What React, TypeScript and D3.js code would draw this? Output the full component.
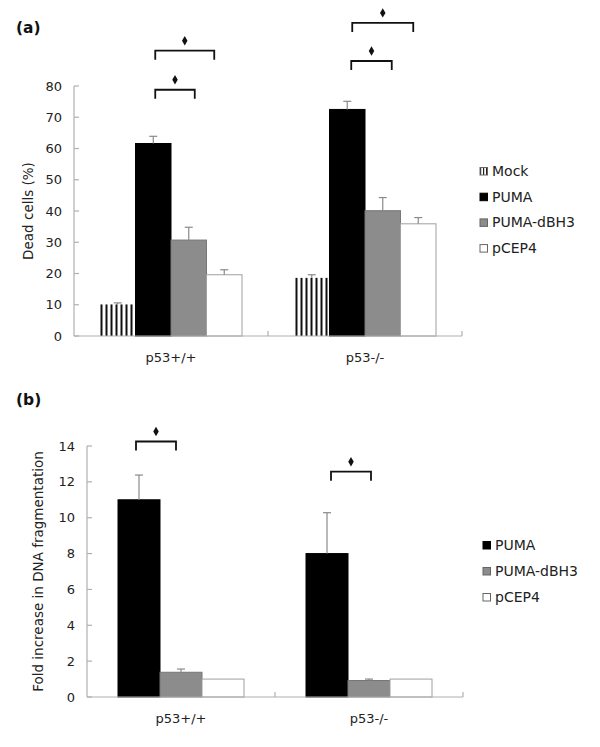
import React from "react";
import * as d3 from "d3";

const categories = ["p53+/+", "p53-/-"];

const seriesA = ["Mock", "PUMA", "PUMA-dBH3", "pCEP4"];
const valuesA = [
  [10.1, 61.6, 30.7, 19.6],
  [18.6, 72.5, 40.1, 35.9],
];
const errorsA = [
  [0.5, 2.3, 4.1, 1.6],
  [1.0, 2.6, 4.2, 2.0],
];
const ticksA = [0, 10, 20, 30, 40, 50, 60, 70, 80];
const bracketsA = [
  { cat: "p53+/+", from: "PUMA", to: "PUMA-dBH3", level: 78.8 },
  { cat: "p53+/+", from: "PUMA", to: "pCEP4", level: 91.3 },
  { cat: "p53-/-", from: "PUMA", to: "PUMA-dBH3", level: 88 },
  { cat: "p53-/-", from: "PUMA", to: "pCEP4", level: 100.2 },
];

const seriesB = ["PUMA", "PUMA-dBH3", "pCEP4"];
const valuesB = [
  [11.0, 1.38, 1.0],
  [8.0, 0.92, 1.0],
];
const errorsB = [
  [1.38, 0.18, 0],
  [2.28, 0.08, 0],
];
const ticksB = [0, 2, 4, 6, 8, 10, 12, 14];
const bracketsB = [
  { cat: "p53+/+", from: "PUMA", to: "PUMA-dBH3", level: 14.25 },
  { cat: "p53-/-", from: "PUMA", to: "PUMA-dBH3", level: 12.57 },
];

const FONT = "'DejaVu Sans', sans-serif";
const AXIS = "#b0b0b0";
const TEXT = "#222";

const fills: Record<string, string> = {
  Mock: "url(#stripes)",
  PUMA: "#000000",
  "PUMA-dBH3": "#8c8c8c",
  pCEP4: "#ffffff",
};
const strokes: Record<string, string> = {
  Mock: "none",
  PUMA: "#000000",
  "PUMA-dBH3": "#777777",
  pCEP4: "#a0a0a0",
};

type Bracket = { cat: string; from: string; to: string; level: number };

function Panel(props: {
  series: string[];
  values: number[][];
  errors: number[][];
  ticks: number[];
  domainMax: number;
  yRange: [number, number];
  xRange: [number, number];
  barW: number;
  brackets: Bracket[];
  bracketOffsets: [number, number][];
  yLabel: string;
  yLabelX: number;
  legendX: number;
  legendY: number;
  legendStep: number;
}) {
  const {
    series, values, errors, ticks, domainMax, yRange, xRange, barW,
    brackets, bracketOffsets, yLabel, yLabelX, legendX, legendY, legendStep,
  } = props;
  const y = d3.scaleLinear().domain([0, domainMax]).range(yRange);
  const x = d3.scaleBand().domain(categories).range(xRange).padding(0);
  const inner = d3
    .scaleBand()
    .domain(series)
    .range([-(barW * series.length) / 2, (barW * series.length) / 2])
    .padding(0);
  const cx = (cat: string) => (x(cat) as number) + x.bandwidth() / 2;
  const sc = (cat: string, s: string) => cx(cat) + (inner(s) as number) + barW / 2;
  const y0 = y(0);
  const axisX = xRange[0];
  const boundaries = [xRange[0], ...categories.map((c) => (x(c) as number) + x.bandwidth())];

  return (
    <g>
      {categories.map((cat, ci) =>
        series.map((s, si) => {
          const v = values[ci][si];
          const bx = cx(cat) + (inner(s) as number);
          return (
            <rect
              key={cat + s}
              x={bx}
              y={y(v)}
              width={barW}
              height={y0 - y(v)}
              fill={fills[s]}
              stroke={strokes[s]}
              strokeWidth={1}
            />
          );
        })
      )}
      {categories.map((cat, ci) =>
        series.map((s, si) => {
          const e = errors[ci][si];
          if (!e) return null;
          const v = values[ci][si];
          const mx = sc(cat, s);
          return (
            <g key={"e" + cat + s} stroke="#8a8a8a" strokeWidth={1.2}>
              <line x1={mx} x2={mx} y1={y(v)} y2={y(v + e)} />
              <line x1={mx - 4} x2={mx + 4} y1={y(v + e)} y2={y(v + e)} />
            </g>
          );
        })
      )}
      <line x1={axisX} x2={axisX} y1={y0} y2={y(domainMax)} stroke={AXIS} strokeWidth={1.2} />
      {ticks.map((t) => (
        <g key={"t" + t}>
          <line x1={axisX} x2={axisX + 5} y1={y(t)} y2={y(t)} stroke={AXIS} strokeWidth={1.2} />
          <text
            x={axisX - 12}
            y={y(t)}
            textAnchor="end"
            dominantBaseline="central"
            fontFamily={FONT}
            fontSize={13}
            fill={TEXT}
          >
            {t}
          </text>
        </g>
      ))}
      <line x1={xRange[0]} x2={xRange[1]} y1={y0} y2={y0} stroke={AXIS} strokeWidth={1.2} />
      {boundaries.slice(1).map((b, i) => (
        <line key={"xb" + i} x1={b} x2={b} y1={y0} y2={y0 - 5} stroke={AXIS} strokeWidth={1.2} />
      ))}
      {categories.map((cat) => (
        <text
          key={"c" + cat}
          x={cx(cat)}
          y={y0 + 26}
          textAnchor="middle"
          fontFamily={FONT}
          fontSize={13}
          fill={TEXT}
        >
          {cat}
        </text>
      ))}
      <text
        transform={`translate(${yLabelX},${(y0 + y(domainMax)) / 2}) rotate(-90)`}
        textAnchor="middle"
        dominantBaseline="central"
        fontFamily={FONT}
        fontSize={13.5}
        fill={TEXT}
      >
        {yLabel}
      </text>
      {brackets.map((b, i) => {
        const x1 = sc(b.cat, b.from) + bracketOffsets[i][0];
        const x2 = sc(b.cat, b.to) + bracketOffsets[i][1];
        const by = y(b.level);
        const star = d3.symbol(d3.symbolDiamond, 26)() as string;
        return (
          <g key={"b" + i}>
            <path
              d={`M${x1},${by + 9}V${by}H${x2}V${by + 9}`}
              fill="none"
              stroke="#111"
              strokeWidth={1.8}
            />
            <path d={star} transform={`translate(${(x1 + x2) / 2},${by - 10})`} fill="#111" />
          </g>
        );
      })}
      {series.map((s, i) => {
        const ly = legendY + i * legendStep;
        return (
          <g key={"l" + s}>
            <rect
              x={legendX}
              y={ly - 3.5}
              width={7.5}
              height={7.5}
              fill={s === "Mock" ? "url(#stripesSmall)" : fills[s]}
              stroke={s === "PUMA" ? "#000" : "#666"}
              strokeWidth={1}
            />
            <text
              x={legendX + 12}
              y={ly}
              dominantBaseline="central"
              fontFamily={FONT}
              fontSize={14}
              fill={TEXT}
            >
              {s}
            </text>
          </g>
        );
      })}
    </g>
  );
}

export default function App() {
  return (
    <svg
      width={600}
      height={747}
      style={{ position: "absolute", left: 0, top: 0, background: "#fff" }}
    >
      <defs>
        <pattern id="stripes" x={0.5} width={5} height={10} patternUnits="userSpaceOnUse">
          <rect width={5} height={10} fill="#fff" />
          <rect x={0} width={2} height={10} fill="#111" />
        </pattern>
        <pattern id="stripesSmall" width={3} height={8} patternUnits="userSpaceOnUse">
          <rect width={3} height={8} fill="#fff" />
          <rect x={0} width={1.2} height={8} fill="#222" />
        </pattern>
      </defs>
      <rect width={600} height={747} fill="#fff" />
      <text x={16} y={33} fontFamily={FONT} fontWeight="bold" fontSize={15.5} fill="#111">
        (a)
      </text>
      <text x={16} y={405} fontFamily={FONT} fontWeight="bold" fontSize={15.5} fill="#111">
        (b)
      </text>
      <Panel
        series={seriesA}
        values={valuesA}
        errors={errorsA}
        ticks={ticksA}
        domainMax={80}
        yRange={[336, 86]}
        xRange={[74, 462]}
        barW={35.5}
        brackets={bracketsA}
        bracketOffsets={[[2, 6], [2, -10], [4, 9], [5, -5]]}
        yLabel="Dead cells (%)"
        yLabelX={28}
        legendX={480}
        legendY={171}
        legendStep={25.7}
      />
      <Panel
        series={seriesB}
        values={valuesB}
        errors={errorsB}
        ticks={ticksB}
        domainMax={14}
        yRange={[697, 446]}
        xRange={[87, 463]}
        barW={42}
        brackets={bracketsB}
        bracketOffsets={[[-3, -5], [4, 2]]}
        yLabel="Fold increase in DNA fragmentation"
        yLabelX={38}
        legendX={483}
        legendY={545}
        legendStep={26}
      />
    </svg>
  );
}
